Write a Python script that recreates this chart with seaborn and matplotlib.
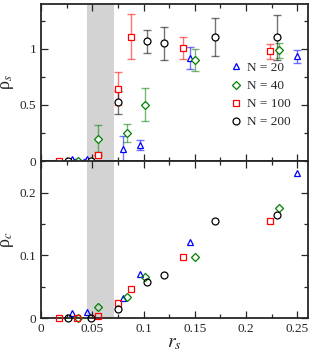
import numpy as np
import matplotlib
matplotlib.use('Agg')
import matplotlib.pyplot as plt
import seaborn as sns
from matplotlib.ticker import MultipleLocator

# series data (NaN = no point in that panel)
labels = ['N = 20', 'N = 40', 'N = 100', 'N = 200']
colors = ['blue', 'green', 'red', 'black']
markers = ['^', 'D', 's', 'o']

r_n20 = [0.0305, 0.045, 0.080, 0.0968, 0.145, 0.250]
rhos_n20 = [0.02, 0.02, 0.11, 0.146, 0.917, 0.932]
err_n20 = [0.0, 0.0, 0.11, 0.045, 0.10, 0.06]
rhoc_n20 = [0.009, 0.0096, 0.033, 0.070, 0.121, 0.231]

r_n40 = [0.0357, 0.0557, 0.0843, 0.1012, 0.150, 0.232]
rhos_n40 = [0.0, 0.20, 0.253, 0.503, 0.902, 0.986]
err_n40 = [0.0, 0.12, 0.08, 0.15, 0.10, 0.07]
rhoc_n40 = [0.0, 0.0185, 0.0345, 0.065, 0.0978, 0.175]

r_n100 = [0.0175, 0.0354, 0.0555, 0.0751, 0.088, 0.138, 0.223]
rhos_n100 = [0.0, np.nan, 0.057, 0.646, 1.107, 1.006, 0.977]
err_n100 = [0.0, 0.0, 0.0, 0.15, 0.20, 0.10, 0.07]
rhoc_n100 = [0.0, 0.0, 0.003, 0.0235, 0.0467, 0.0973, 0.155]

r_n200 = [0.0265, 0.0483, 0.0752, 0.1030, 0.120, 0.170, 0.230]
rhos_n200 = [0.0, 0.0, 0.524, 1.066, 1.048, 1.104, 1.104]
err_n200 = [0.0, 0.0, 0.10, 0.10, 0.15, 0.17, 0.20]
rhoc_n200 = [0.0, 0.0, 0.0148, 0.058, 0.0696, 0.155, 0.165]

band = (0.045, 0.0715)

series = [
    (r_n20, rhos_n20, err_n20, rhoc_n20),
    (r_n40, rhos_n40, err_n40, rhoc_n40),
    (r_n100, rhos_n100, err_n100, rhoc_n100),
    (r_n200, rhos_n200, err_n200, rhoc_n200),
]

sns.set_style('ticks')
plt.rcParams['font.family'] = ['Liberation Serif', 'DejaVu Serif']
plt.rcParams['mathtext.fontset'] = 'stix'

fig, (ax1, ax2) = plt.subplots(2, 1, figsize=(3.13, 3.58), dpi=100, sharex=True)
fig.subplots_adjust(left=0.131, right=0.983, top=0.989, bottom=0.111, hspace=0)

msizes = [5.0, 3.6, 4.6, 5.0]

for i, (r, rs, err, rc) in enumerate(series):
    # error bars (lighter) then open markers
    ax1.errorbar(r, rs, yerr=err, fmt='none', ecolor=colors[i], alpha=0.55,
                 elinewidth=1.0, capsize=3.2, capthick=1.0, clip_on=False, zorder=2)
    ax1.plot(r, rs, linestyle='none', marker=markers[i], ms=msizes[i],
             mfc='white', mec=colors[i], mew=0.9, clip_on=False, zorder=3,
             label=labels[i])
    ax2.plot(r, rc, linestyle='none', marker=markers[i], ms=msizes[i],
             mfc='none', mec=colors[i], mew=0.9, clip_on=False, zorder=3)

for ax in (ax1, ax2):
    ax.axvspan(band[0], band[1], color='#d3d3d3', lw=0, zorder=0)
    ax.set_xlim(0, 0.26)
    ax.xaxis.set_major_locator(MultipleLocator(0.05))
    ax.xaxis.set_minor_locator(MultipleLocator(0.025))
    ax.tick_params(which='both', direction='in', top=True, right=True,
                   labelsize=9.5, width=0.9)
    ax.tick_params(which='major', length=5)
    ax.tick_params(which='minor', length=3)
    for s in ax.spines.values():
        s.set_linewidth(1.3)

ax1.set_ylim(0, 1.4)
ax1.yaxis.set_major_locator(MultipleLocator(0.5))
ax1.yaxis.set_minor_locator(MultipleLocator(0.25))
ax1.set_yticks([0, 0.5, 1])
ax1.set_yticklabels(['0', '0.5', '1'])
ax1.tick_params(labelbottom=False)

ax2.set_ylim(0, 0.25)
ax2.set_yticks([0, 0.1, 0.2])
ax2.set_yticklabels(['0', '0.1', '0.2'])
ax2.yaxis.set_minor_locator(MultipleLocator(0.05))
ax2.set_xticks([0, 0.05, 0.1, 0.15, 0.2, 0.25])
ax2.set_xticklabels(['0', '0.05', '0.1', '0.15', '0.2', '0.25'])

ax1.set_ylabel('ρ$_s$', fontsize=13)
ax2.set_ylabel('ρ$_c$', fontsize=13)
ax1.yaxis.set_label_coords(-0.095, 0.5)
ax2.yaxis.set_label_coords(-0.095, 0.5)
ax2.set_xlabel('$r_s$', fontsize=14, labelpad=0)

ax1.legend(loc='center left', bbox_to_anchor=(0.68, 0.42), frameon=False,
           fontsize=9.5, handletextpad=0.3, labelspacing=0.45,
           handlelength=1.2, borderaxespad=0)

fig.savefig('out.png', dpi=100)
